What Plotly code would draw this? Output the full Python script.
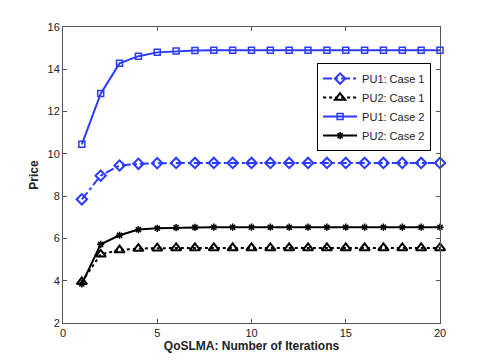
import plotly.graph_objects as go

# iterations 1..20
iterations = list(range(1, 21))

pu1_case1 = [7.85, 8.97, 9.45, 9.53, 9.56, 9.57, 9.57, 9.57, 9.57, 9.57,
             9.57, 9.57, 9.57, 9.57, 9.57, 9.57, 9.57, 9.57, 9.57, 9.57]
pu2_case1 = [3.95, 5.25, 5.45, 5.52, 5.54, 5.55, 5.55, 5.55, 5.55, 5.55,
             5.55, 5.55, 5.55, 5.55, 5.55, 5.55, 5.55, 5.55, 5.55, 5.55]
pu1_case2 = [10.45, 12.85, 14.28, 14.62, 14.80, 14.86, 14.89, 14.90, 14.90, 14.90,
             14.90, 14.90, 14.90, 14.90, 14.90, 14.90, 14.90, 14.90, 14.90, 14.90]
pu2_case2 = [3.85, 5.72, 6.15, 6.42, 6.48, 6.51, 6.52, 6.53, 6.53, 6.53,
             6.53, 6.53, 6.53, 6.53, 6.53, 6.53, 6.53, 6.53, 6.53, 6.53]

x_ticks = [0, 5, 10, 15, 20]
y_ticks = [2, 4, 6, 8, 10, 12, 14, 16]

blue = '#2b3cff'
black = '#000000'

fig = go.Figure()

# (name, values, color, dash, marker symbol, marker size, marker line width)
series = [
    ('PU1: Case 1', pu1_case1, blue, 'dashdot', 'diamond-open', 8, 2),
    ('PU2: Case 1', pu2_case1, black, 'dot', 'triangle-up-open', 9, 2),
    ('PU1: Case 2', pu1_case2, blue, 'solid', 'square-open', 6, 1.5),
    ('PU2: Case 2', pu2_case2, black, 'solid', 'asterisk-open', 6, 1.5),
]
for name, vals, color, dash, symbol, size, mlw in series:
    fig.add_trace(go.Scatter(
        x=iterations, y=vals, name=name, mode='lines+markers',
        line=dict(color=color, width=2, dash=dash),
        marker=dict(symbol=symbol, size=size, color=color,
                    line=dict(color=color, width=mlw)),
        cliponaxis=False))

axis_style = dict(showgrid=False, zeroline=False, showline=True, mirror='ticks',
                  linecolor='#555555', linewidth=1, ticks='inside', ticklen=4,
                  tickcolor='#555555', tickfont=dict(size=11, color='#222222'))

fig.update_xaxes(range=[0, 20], tickvals=x_ticks, **axis_style,
                 title=dict(text='<b>QoSLMA: Number of Iterations</b>',
                            font=dict(size=12, color='#222222'), standoff=1))
fig.update_yaxes(range=[2, 16], tickvals=y_ticks, **axis_style,
                 title=dict(text='<b>Price</b>',
                            font=dict(size=12, color='#222222'), standoff=6))

# the page puts the figure 8px in from the top-left corner
fig.update_layout(
    width=477, height=356,
    margin=dict(l=55, r=45, t=19, b=41, autoexpand=False),
    paper_bgcolor='white', plot_bgcolor='white',
    font=dict(family='Liberation Sans, Arial, sans-serif'),
    legend=dict(x=0.674, y=0.878, xanchor='left', yanchor='top',
                bgcolor='white', bordercolor='black', borderwidth=1,
                font=dict(size=11, color='#222222'), tracegroupgap=0,
                itemwidth=34),
)

fig.write_html("out.html")
